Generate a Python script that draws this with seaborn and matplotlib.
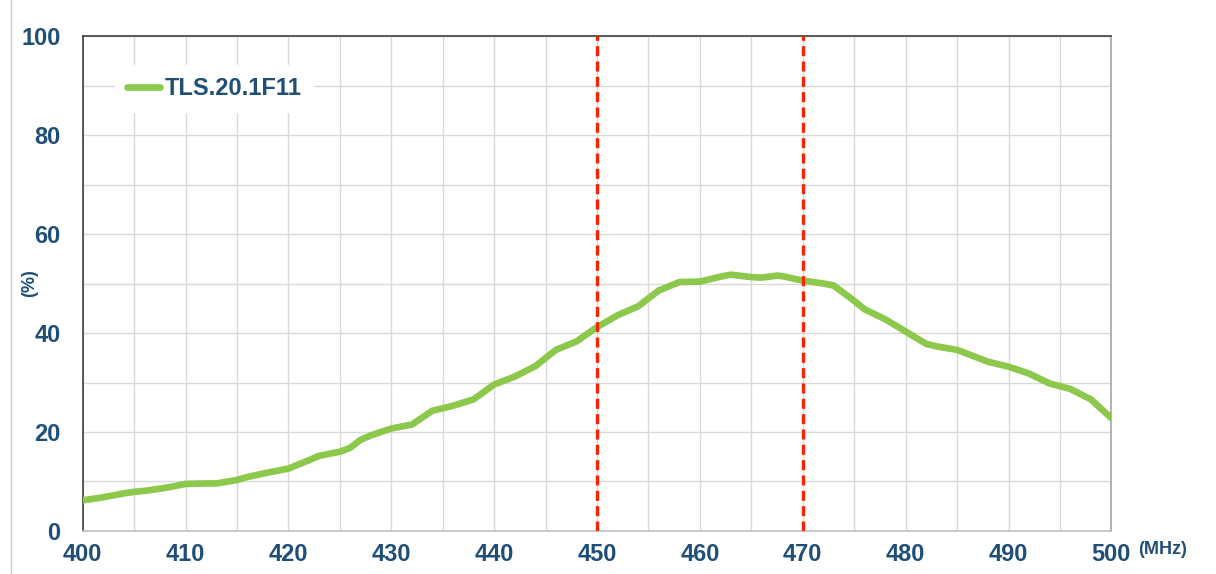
import numpy as np
import pandas as pd
import matplotlib
matplotlib.use("Agg")
import matplotlib.pyplot as plt
import seaborn as sns
from matplotlib.ticker import MultipleLocator

sns.set_style("white")
plt.rcParams['font.family'] = ['Liberation Sans', 'DejaVu Sans']

# 讀圖估計的數值
freq = [400, 402, 404, 405, 406, 408, 410, 412, 413, 415, 416, 418, 420, 422, 423, 425,
        426, 427, 428, 430, 432, 434, 436, 438, 440, 442, 444, 446, 448, 450, 452, 454,
        456, 458, 460, 462, 463, 465, 466, 467.5, 468, 470, 472, 473, 475, 476, 478, 480,
        482, 483, 485, 486, 488, 490, 492, 494, 496, 498, 500]
eff = [6.2, 6.8, 7.6, 7.9, 8.1, 8.7, 9.5, 9.6, 9.6, 10.3, 10.9, 11.8, 12.6, 14.3, 15.2, 16.0,
       16.8, 18.4, 19.3, 20.7, 21.5, 24.3, 25.3, 26.6, 29.6, 31.2, 33.3, 36.6, 38.3, 41.2, 43.6, 45.4,
       48.6, 50.3, 50.4, 51.4, 51.8, 51.3, 51.2, 51.6, 51.5, 50.6, 50.0, 49.6, 46.5, 44.8, 42.8, 40.3,
       37.8, 37.3, 36.6, 35.8, 34.2, 33.2, 31.8, 29.8, 28.7, 26.6, 22.8]
band = [450, 470]
label = 'TLS.20.1F11'

df = pd.DataFrame({'freq': freq, 'eff': eff})

navy = '#1F4E79'
green = '#8CC84B'

fig = plt.figure(figsize=(12.16, 5.74), dpi=100)
ax = fig.add_axes([0.068, 0.075, 0.846, 0.862])

sns.lineplot(data=df, x='freq', y='eff', ax=ax, color=green, linewidth=4.8,
             label=label, solid_capstyle='round', solid_joinstyle='round', zorder=3)

for b in band:
    ax.axvline(b, color='#FF2200', linewidth=2.4, linestyle=(0, (3, 1.6)), zorder=4)

ax.set_xlim(400, 500)
ax.set_ylim(0, 100)
ax.xaxis.set_major_locator(MultipleLocator(10))
ax.xaxis.set_minor_locator(MultipleLocator(5))
ax.yaxis.set_major_locator(MultipleLocator(20))
ax.yaxis.set_minor_locator(MultipleLocator(10))
ax.grid(True, which='both', color='#D9D9D9', linewidth=1.0)
ax.set_axisbelow(True)

ax.tick_params(axis='both', which='major', labelsize=17, labelcolor=navy)
ax.tick_params(axis='x', which='major', direction='in', color=green, length=5, width=1, pad=9)
ax.tick_params(axis='x', which='minor', length=0)
ax.tick_params(axis='y', which='major', direction='out', color='#404040', length=6, width=1, pad=10)
ax.tick_params(axis='y', which='minor', length=0)
for t in ax.get_xticklabels() + ax.get_yticklabels():
    t.set_fontweight('bold')

ax.set_xlabel('')
ax.set_ylabel('(%)', color=navy, fontsize=13, fontweight='bold')
ax.yaxis.set_label_coords(-0.043, 0.5)
fig.text(0.936, 0.042, '(MHz)', color=navy, fontsize=13, fontweight='bold', ha='left', va='center')

ax.spines['left'].set_color('#404040')
ax.spines['top'].set_color('#404040')
ax.spines['bottom'].set_color('#BFBFBF')
ax.spines['right'].set_color('#A6A6A6')
for s in ax.spines.values():
    s.set_linewidth(1.2)

leg = ax.legend(loc='upper left', bbox_to_anchor=(0.02, 0.965), frameon=True,
                framealpha=1, edgecolor='white', fontsize=17, handlelength=1.4,
                handletextpad=0.2, borderpad=0.5)
for t in leg.get_texts():
    t.set_color(navy)
    t.set_fontweight('bold')

fig.add_artist(plt.Line2D([0.009, 0.009], [0.0, 1.0], color='#C8C8C8', linewidth=1))

fig.savefig('out.png', dpi=100)
